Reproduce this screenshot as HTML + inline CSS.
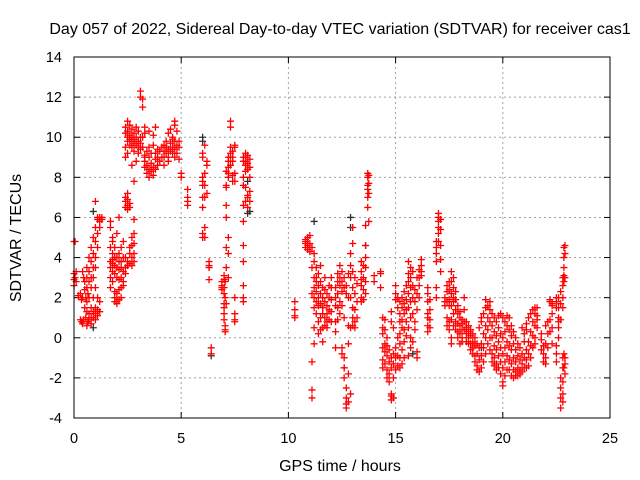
<!DOCTYPE html>
<html><head><meta charset="utf-8"><style>
html,body{margin:0;padding:0;background:#fff;}
svg{display:block;font-family:"Liberation Sans",sans-serif;}
</style></head><body>
<svg id="chart" width="640" height="480" viewBox="0 0 640 480"></svg>
<script>
const xTicks=[0,5,10,15,20,25];
const yTicks=[-4,-2,0,2,4,6,8,10,12,14];
const redHours=[0.0,0.05,0.1,0.2,0.3,0.35,0.4,0.45,0.5,0.55,0.6,0.65,0.7,0.8,0.9,1.0,1.1,1.2,1.3,
1.7,1.8,1.9,2.0,2.1,2.2,2.3,2.4,2.5,2.6,2.7,2.8,2.9,3.0,3.1,3.2,3.3,3.4,3.5,3.6,3.7,3.8,3.9,4.0,4.1,
4.2,4.3,4.4,4.5,4.6,4.7,4.8,4.9,5.0,5.3,6.0,6.1,6.2,6.3,6.4,6.9,7.0,7.05,7.1,7.2,7.3,7.4,7.5,7.9,8.0,8.1,8.2,
10.3,10.8,10.9,11.0,11.1,11.2,11.3,11.4,11.5,11.6,11.7,11.8,11.9,12.0,12.2,12.3,12.4,12.5,12.6,12.7,12.8,12.9,13.0,13.1,13.2,
13.4,13.5,13.6,13.7,13.75,14.0,14.3,14.4,14.5,14.6,14.7,14.8,14.9,15.0,15.1,15.2,15.3,15.4,15.5,15.6,15.7,15.8,15.9,16.0,16.1,16.2,
16.5,16.6,16.9,17.0,17.1,17.3,17.4,17.5,17.6,17.7,17.8,17.9,18.0,18.1,18.2,18.3,18.4,18.5,18.6,18.7,18.8,18.9,19.0,19.1,19.2,19.3,19.4,
19.5,19.6,19.7,19.8,19.9,20.0,20.1,20.2,20.3,20.4,20.5,20.6,20.7,20.8,20.9,21.0,21.1,21.2,21.3,21.4,21.5,21.6,21.8,
21.9,22.0,22.1,22.2,22.3,22.5,22.6,22.7,22.8,22.85,22.9];
const redValues=[[4.8,3.2,2.9,2.6],[4.8,3.0],[2.8,3.3],[2.1],[2.2,0.9],[1.9,0.8],[0.7,3.3,2.0],[0.9,3.0],[2.4,2.8,1.5],[1.0,2.0],
[0.6,2.5,3.0,3.5,1.8,1.3],[0.8,2.2],[2.0,2.8,3.3,4.0,1.2,0.9],[2.5,3.0,3.8,4.5,1.5,1.0,0.7],[3.0,3.5,4.2,5.0,2.0,1.3,1.0],
[3.5,4.0,4.8,5.5,6.8,2.5,1.5,1.2,0.9],[4.5,5.2,5.9,6.0,2.0,1.4,1.1],[5.8,6.0,5.5,1.8,1.3],[6.0,5.9],
[5.8,5.5,4.5,3.8,3.5,3.0,2.5],[5.0,4.2,3.7,3.3,2.8,3.9,4.8],[4.5,4.0,3.6,3.2,2.0,1.8,2.3],[5.2,4.0,3.5,3.0,2.2,1.8,1.7],
[4.2,3.8,3.4,2.9,2.4,1.9,6.0],[4.5,3.8,3.5,3.0,2.5,2.0],[4.8,4.0,3.3,2.8,2.6],
[6.5,6.8,7.0,4.0,3.5,3.2,10.5,10.2,9.0,9.5],[6.6,6.9,7.2,6.4,3.8,3.6,10.8,10.3,10.0,9.8,9.2],[6.7,6.5,4.5,4.2,3.7,10.6,10.1,9.9,9.6],
[5.0,4.6,4.0,3.6,10.4,10.0,9.8,9.5,8.6],[5.2,4.7,4.2,3.8,5.9,10.2,9.9,9.7,9.3,7.8],[10.5,10.0,9.6,8.8],[10.3,9.8,9.5,9.2],
[10.0,9.7,9.4,12.0,12.3],[11.5,11.9,10.0,9.5],[10.5,10.2,9.0,8.8,8.5,9.1],[8.2,8.6,9.3],[8.0,8.4,9.0,9.5,10.3],[8.7,9.2,8.3],
[8.1,8.5,9.6,10.1],[8.9,8.4,9.2,10.5],[8.6,9.0,9.4],[8.8,9.3],[9.5,9.0],
[9.6,9.3,9.0,8.6],[9.8,9.5,9.2],[9.4,9.0,8.8,10.2],[9.7,9.3,10.4],[9.9,9.5,9.2,10.0],[10.6,10.8,9.8,9.4,9.0],[10.3,9.6,9.2],[9.8,9.5,8.9],
[8.0,8.2],[7.4,7.0,6.8,6.6],[9.2,9.0,8.0,7.8,7.6,7.0,6.5,5.2,5.0],[9.6,8.2,7.6,7.0,5.5,5.0],[8.8,8.6,7.2],[3.8,3.6,3.5,2.9],[-0.5,-0.8],
[2.8,2.6,2.4,2.5],[3.1,2.9,2.5,2.2,1.7,1.5,1.2,0.9],[2.8,2.0,0.4,0.3,0.6],[3.5,4.5,6.0,6.6,7.5,7.6,8.3,1.7],[9.0,8.8,8.5,8.2,8.0,5.0,4.2,3.0],
[10.5,10.8,9.5,9.2,9.0,8.6],[9.3,9.0,8.8,8.1,7.8],[9.5,9.6,8.2,7.8,2.0,1.2,0.8,0.9],
[8.0,8.8,9.0,7.6,6.6,5.8,4.6,3.8,2.6,2.0,1.8],[9.2,9.0,8.8,8.6,8.3,7.5,6.8],[9.1,8.7,8.4,7.1,7.0,6.5],[8.9,8.5,8.0,7.3,6.8],
[1.8,1.4,1.1,1.0],[4.9,4.7,4.5,4.8],[5.0,4.6,4.4],[4.7,4.3,5.1],
[4.5,3.5,2.2,-1.2,-2.6,-3.0],[4.2,3.8,3.0,2.5,2.0,1.5,0.5,-0.3],[3.5,2.8,2.3,1.8,1.2,3.0],[3.2,2.6,2.0,1.6,0.8,0.2],[2.8,2.2,1.7,1.0,0.4,3.6],
[2.5,2.0,1.5,1.2,0.5,-0.2],[3.0,2.4,1.8,1.0,0.6],[2.2,1.6,1.2,0.8,0.5],[2.6,2.0,1.4,0.9],[3.0,2.5,1.9,1.3,0.8],
[2.5,2.0,1.6,0.8,0.3,-0.5],[3.2,2.8,2.2,1.5,0.9],[3.6,3.0,2.6,1.8,1.2],[3.3,2.8,2.3,1.6,-0.5,-0.8],[3.0,2.5,1.0,-1.0,-1.5,-2.0],
[2.6,2.2,-2.5,-3.0,-3.3,-3.5],[3.2,2.0,0.6,-0.3,-1.8,-3.2],[4.2,3.6,3.0,2.0,0.5,-2.8],[5.5,4.7,3.3,2.5,1.5,1.0,0.6],[3.0,2.2,1.4,0.8,0.5],[2.7,1.8,1.0],
[3.8,3.3,2.9,2.6,2.0,1.8],[3.6,3.0,2.4,1.9],[4.0,3.5,2.8,2.2,5.6,4.6],[8.2,8.0,7.6,7.4,7.0,6.5],[8.1,7.7,7.2,5.8],[3.1,2.8],[3.3,3.2,2.5],
[1.0,0.5,0.2,-0.5,-1.1,-1.5],[0.9,0.4,-0.3,-0.7,-1.3],[0.0,-0.4,-0.9,-1.6,-2.0],[-0.6,-1.2,-1.8,-2.2],[-1.0,-1.5,-2.9,-3.1,-2.8,0.8,1.3],
[-0.8,-1.3,-2.0,-3.0,0.5],[-0.5,-1.0,-1.6,1.9,2.2,2.6],[-0.9,-1.4,0.0,1.5,2.0],
[1.8,1.2,0.8,0.2,-0.3,-1.0,-1.5],[2.0,1.5,0.9,0.5,-0.6,-1.3],[2.3,1.7,1.2,0.4,-0.2,-1.0],[2.6,1.9,1.4,0.8,0.1],[3.8,3.2,2.8,2.2,1.5,0.5,-0.9],
[3.5,3.0,2.5,1.8,1.0,0.0,-0.5],[3.3,2.6,2.0,1.2,-0.2],[2.4,1.8,0.4,0.8],[3.0,2.2,1.4,-0.7,-1.0],[3.4,3.0,2.6,2.0],[3.9,3.6,3.3,3.1],
[2.5,2.2,1.8,1.2,1.0,0.6,0.3],[1.9,1.4,0.9,0.5],[4.8,4.5,4.2,3.8,2.5,2.0],[6.2,6.0,5.8,5.5,5.2,4.8],[5.9,5.4,4.6,3.9,3.3],[2.0,1.8,1.6],
[2.6,2.3,1.8,1.0,0.6],[2.8,2.4,1.9,1.6,0.8,0.4],
[3.3,2.8,2.2,1.6,0.9,0.0,-0.3],[3.0,2.5,2.0,1.8,1.2,0.6],[2.3,1.9,1.4,0.8,0.4],[1.6,1.2,0.7,0.3,0.0],[1.3,1.0,0.6,0.2,-0.3],
[0.9,0.7,0.4,0.0,-0.2],[2.0,1.4,0.8,0.4],[0.8,0.5,0.2,-0.2],[0.6,0.3,0.0,-0.3],
[0.4,0.1,-0.3,-0.6],[0.2,-0.2,-0.5,-0.8],[0.0,-0.4,-0.9,-1.2],[-0.3,-0.8,-1.4,-1.6],[-0.5,-1.1,-1.7,0.5],[-0.3,-0.9,-1.5,0.8,1.0],
[0.2,-0.5,-1.2,1.2],[0.6,0.0,-0.8,1.5,1.9],[1.0,0.4,-0.3,1.6],[1.4,0.8,0.0,-0.6,1.8],
[1.2,0.6,0.0,-0.8,-1.2],[1.0,0.3,-0.4,-1.0,-1.4],[0.8,0.1,-0.6,-1.3,-1.6],[0.5,-0.2,-0.9,-1.5,1.1],[0.2,-0.5,-1.2,-1.8,1.2],
[1.0,0.0,-0.8,-1.5,-2.2,-2.4],[0.8,0.3,-0.5,-1.2,-1.9],[1.1,0.6,-0.2,-0.9,-1.6],[1.0,0.4,-0.4,-1.1,-1.6],[0.6,0.1,-0.6,-1.3,-1.9],[0.3,-0.3,-1.0,-1.6,-2.0],
[0.0,-0.6,-1.2,-1.7,-1.9],[-0.3,-0.9,-1.5,-1.9],[-0.5,-1.1,-1.6,-1.8],[-0.8,-1.3,-1.7,0.5],[-1.0,-1.5,-0.2,0.2],[-0.6,-1.1,-1.5,0.4,0.7],
[-0.2,-0.8,-1.4,1.0],[0.3,-0.4,-1.0,1.2],[0.8,0.1,-0.5,1.4],[1.2,0.6,0.0,-0.3,1.5],[1.5,1.1,0.5,0.9],[0.2,-0.1,-0.6],
[-0.4,-0.8,-1.2],[0.6,-0.3,-1.0,-1.3],[0.8,0.2,-0.5],[1.8,1.9,0.9,0.3],[1.7,1.6,1.2,0.5,-0.3],[1.8,1.5,2.0,-0.4,-0.8,-1.2],
[2.0,1.5,1.0,0.8,0.5,0.0],[2.3,1.7,0.9,-2.0,-2.5,-3.0,-3.5],[3.0,2.6,2.0,1.5,-1.0,-1.5,-2.2,-2.8,-3.2],[4.5,4.0,3.5,3.1,2.8,-1.5,-0.8],[4.6,4.2,3.0,-1.0,-1.8,-1.3]];
const blackHours=[0.9,6.0,6.4,8.1,8.2,11.2,12.6,12.9,13.6,15.8,19.0];
const blackValues=[[0.5,6.3],[10.0,9.8],[-0.9],[6.2,7.8],[6.3],[5.8],[-1.5],[6.0,5.5],[4.6],[-0.8],[-0.5]];

const L=74,R=610,T=57,B=418,xmin=0,xmax=25,ymin=-4,ymax=14;
const xs=v=>L+(v-xmin)/(xmax-xmin)*(R-L);
const ys=v=>B-(v-ymin)/(ymax-ymin)*(B-T);
const NS="http://www.w3.org/2000/svg";
const svg=document.getElementById('chart');
function mk(tag,attrs,parent){const e=document.createElementNS(NS,tag);for(const k in attrs)e.setAttribute(k,attrs[k]);(parent||svg).appendChild(e);return e;}

const grid=mk('g',{});


xTicks.forEach(t=>{
  if(t>xmin&&t<xmax){const g=mk('line',{x1:xs(t),x2:xs(t),y1:T,y2:B,stroke:'#a0a0a0','stroke-dasharray':'2,3','stroke-width':1},grid);
  
  }
  mk('line',{x1:xs(t),x2:xs(t),y1:B,y2:B-6,stroke:'#000'},grid);
  mk('line',{x1:xs(t),x2:xs(t),y1:T,y2:T+6,stroke:'#000'},grid);
  const lb=mk('text',{x:xs(t),y:B+25,'text-anchor':'middle','font-size':14.5,fill:'#000'});
  lb.textContent=t;
  
  
});
yTicks.forEach(t=>{
  if(t>ymin&&t<ymax){const g=mk('line',{x1:L,x2:R,y1:ys(t),y2:ys(t),stroke:'#a0a0a0','stroke-dasharray':'2,3','stroke-width':1},grid);
  
  }
  mk('line',{x1:L,x2:L+6,y1:ys(t),y2:ys(t),stroke:'#000'},grid);
  mk('line',{x1:R,x2:R-6,y1:ys(t),y2:ys(t),stroke:'#000'},grid);
  const lb=mk('text',{x:L-12,y:ys(t)+5,'text-anchor':'end','font-size':14.5,fill:'#000'});
  lb.textContent=t;
  
  
});

function drawSeries(hours,values,color,name){
  const g=mk('g',{stroke:color,'stroke-width':1.3});
  
  
  hours.forEach((h,i)=>{values[i].forEach(v=>{
    const x=xs(h),y=ys(v);
    const p=mk('path',{d:`M${x-3.5},${y}h7M${x},${y-3.5}v7`,fill:'none'},g);
    
    
  });});
}
drawSeries(blackHours,blackValues,'#303030','series-black');
drawSeries(redHours,redValues,'#ff0000','series-sdtvar');

const border=mk('rect',{x:L,y:T,width:R-L,height:B-T,fill:'none',stroke:'#000','stroke-width':1});


const title=mk('text',{x:340,y:34,'text-anchor':'middle','font-size':16,fill:'#000'});
title.textContent='Day 057 of 2022, Sidereal Day-to-day VTEC variation (SDTVAR) for receiver cas1';


const xl=mk('text',{x:340,y:471,'text-anchor':'middle','font-size':16,fill:'#000'});
xl.textContent='GPS time / hours';


const yl=mk('text',{x:0,y:0,'text-anchor':'middle','font-size':16,fill:'#000',transform:'translate(21,238) rotate(-90)'});
yl.textContent='SDTVAR / TECUs';


</script>
</body></html>
